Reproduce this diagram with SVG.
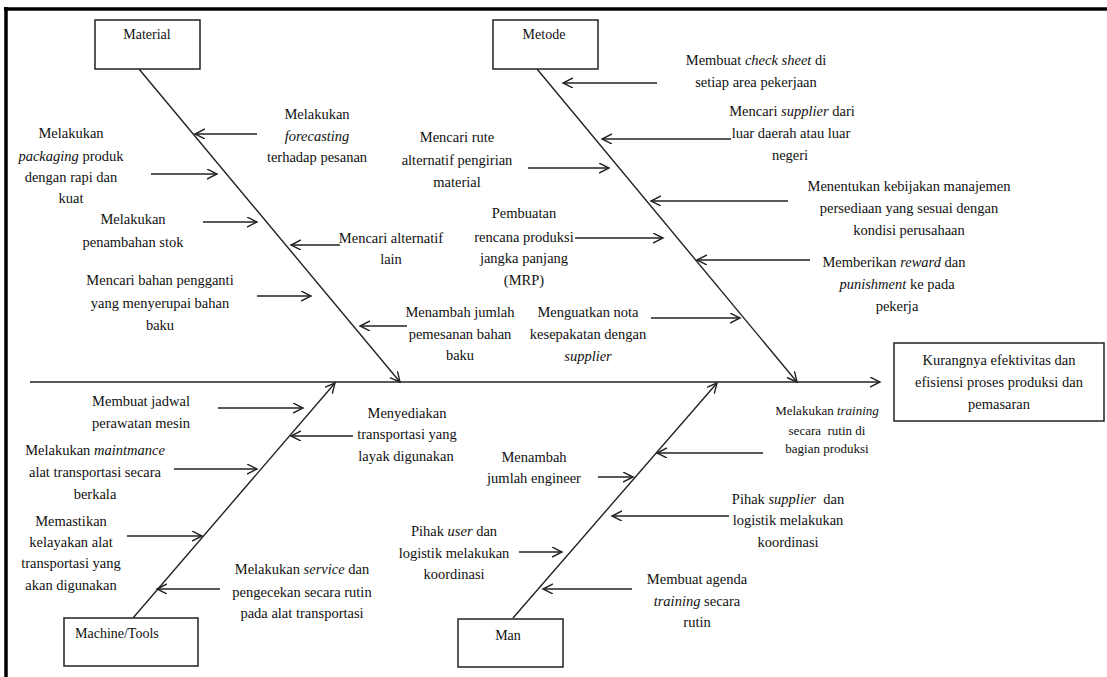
<svg xmlns="http://www.w3.org/2000/svg" width="1107" height="677" viewBox="0 0 1107 677">
  <style>
    .frame { stroke: #000; stroke-width: 3.5; fill: none; }
    .box { fill: #fff; stroke: #222; stroke-width: 1.5; }
    .bone { stroke: #222; stroke-width: 1.4; fill: none; marker-end: url(#arr); }
    .lbl text { font-size: 14.5px; fill: #111; text-anchor: middle; }
    .lbl .sm { font-size: 13px; }
    .lbl .head { font-size: 14px; }
    .lbl .lft { text-anchor: start; }
    .it { font-style: italic; }
  </style>
  <defs>
    <marker id="arr" markerUnits="userSpaceOnUse" markerWidth="14" markerHeight="14" refX="10" refY="5" orient="auto">
      <path d="M0,0 L10,5 L0,10" fill="none" stroke="#222" stroke-width="1.4"/>
    </marker>
  </defs>

  <rect width="1107" height="677" fill="#fff"/>
  <!-- outer frame: top and left rules -->
  <line class="frame" x1="4" y1="9" x2="1107" y2="9"/>
  <line class="frame" x1="6" y1="7" x2="6" y2="677"/>

  <!-- spine, bones and cause arrows -->
  <g id="connectors">
    <line class="bone" x1="30" y1="382" x2="880" y2="382"/>
    <line class="bone" x1="139" y1="69" x2="400" y2="382"/>
    <line class="bone" x1="537" y1="69" x2="797" y2="382"/>
    <line class="bone" x1="133" y1="618" x2="335" y2="383"/>
    <line class="bone" x1="513" y1="618" x2="717" y2="383"/>

    <!-- Material -->
    <line class="bone" x1="257" y1="134" x2="195" y2="134"/>
    <line class="bone" x1="151" y1="174" x2="217" y2="174"/>
    <line class="bone" x1="203" y1="222" x2="257" y2="222"/>
    <line class="bone" x1="340" y1="245" x2="291" y2="245"/>
    <line class="bone" x1="257" y1="296" x2="311" y2="296"/>
    <line class="bone" x1="407" y1="326" x2="360" y2="326"/>

    <!-- Metode -->
    <line class="bone" x1="657" y1="83" x2="563" y2="83"/>
    <line class="bone" x1="731" y1="139" x2="602" y2="139"/>
    <line class="bone" x1="528" y1="168" x2="609" y2="168"/>
    <line class="bone" x1="788" y1="201" x2="651" y2="201"/>
    <line class="bone" x1="575" y1="238" x2="663" y2="238"/>
    <line class="bone" x1="810" y1="260" x2="697" y2="260"/>
    <line class="bone" x1="651" y1="318" x2="740" y2="318"/>

    <!-- Machine/Tools -->
    <line class="bone" x1="218" y1="408" x2="303" y2="408"/>
    <line class="bone" x1="353" y1="436" x2="291" y2="436"/>
    <line class="bone" x1="174" y1="469" x2="257" y2="469"/>
    <line class="bone" x1="127" y1="536" x2="202" y2="536"/>
    <line class="bone" x1="220" y1="589" x2="157" y2="589"/>

    <!-- Man -->
    <line class="bone" x1="763" y1="453" x2="657" y2="453"/>
    <line class="bone" x1="598" y1="477" x2="633" y2="477"/>
    <line class="bone" x1="729" y1="516" x2="612" y2="516"/>
    <line class="bone" x1="519" y1="552" x2="562" y2="552"/>
    <line class="bone" x1="632" y1="589" x2="543" y2="589"/>
  </g>

  <g class="lbl" font-family="'Liberation Serif', 'DejaVu Serif', serif">
  <!-- category boxes -->
  <g id="material">
    <rect class="box" x="95" y="20" width="105" height="49"/>
    <text class="head" x="147" y="39">Material</text>
  </g>
  <g id="metode">
    <rect class="box" x="493" y="20" width="105" height="49"/>
    <text class="head" x="544" y="39">Metode</text>
  </g>
  <g id="machine-tools">
    <rect class="box" x="64" y="618" width="134" height="48"/>
    <text class="head lft" x="75" y="638">Machine/Tools</text>
  </g>
  <g id="man">
    <rect class="box" x="458" y="619" width="105" height="48"/>
    <text class="head" x="508" y="640">Man</text>
  </g>
  <g id="effect">
    <rect class="box" x="894" y="343" width="210" height="78"/>
    <text x="999" y="365">Kurangnya efektivitas dan</text>
    <text x="999" y="387">efisiensi proses produksi dan</text>
    <text x="999" y="409">pemasaran</text>
  </g>

  <!-- Material causes -->
  <g id="mat-forecasting">
    <text x="317" y="119">Melakukan</text>
    <text x="317" y="141" class="it">forecasting</text>
    <text x="317" y="162">terhadap pesanan</text>
  </g>
  <g id="mat-packaging">
    <text x="71" y="138">Melakukan</text>
    <text x="71" y="161"><tspan class="it">packaging</tspan> produk</text>
    <text x="71" y="182">dengan rapi dan</text>
    <text x="71" y="203">kuat</text>
  </g>
  <g id="mat-stok">
    <text x="133" y="224">Melakukan</text>
    <text x="133" y="247">penambahan stok</text>
  </g>
  <g id="mat-alternatif">
    <text x="391" y="243">Mencari alternatif</text>
    <text x="391" y="264">lain</text>
  </g>
  <g id="mat-pengganti">
    <text x="160" y="285">Mencari bahan pengganti</text>
    <text x="160" y="308">yang menyerupai bahan</text>
    <text x="160" y="330">baku</text>
  </g>
  <g id="mat-pemesanan">
    <text x="460" y="317">Menambah jumlah</text>
    <text x="460" y="339">pemesanan bahan</text>
    <text x="460" y="360">baku</text>
  </g>

  <!-- Metode causes -->
  <g id="met-checksheet">
    <text x="756" y="65">Membuat <tspan class="it">check sheet</tspan> di</text>
    <text x="756" y="87">setiap area pekerjaan</text>
  </g>
  <g id="met-supplier">
    <text x="792" y="116">Mencari <tspan class="it">supplier</tspan> dari</text>
    <text x="791" y="138">luar daerah atau luar</text>
    <text x="790" y="160">negeri</text>
  </g>
  <g id="met-rute">
    <text x="457" y="142">Mencari rute</text>
    <text x="457" y="165">alternatif pengirian</text>
    <text x="457" y="187">material</text>
  </g>
  <g id="met-kebijakan">
    <text x="909" y="191">Menentukan kebijakan manajemen</text>
    <text x="909" y="213">persediaan yang sesuai dengan</text>
    <text x="909" y="235">kondisi perusahaan</text>
  </g>
  <g id="met-mrp">
    <text x="524" y="218">Pembuatan</text>
    <text x="524" y="242">rencana produksi</text>
    <text x="524" y="263">jangka panjang</text>
    <text x="524" y="285">(MRP)</text>
  </g>
  <g id="met-reward">
    <text x="894" y="267">Memberikan <tspan class="it">reward</tspan> dan</text>
    <text x="897" y="289"><tspan class="it">punishment</tspan> ke pada</text>
    <text x="897" y="311">pekerja</text>
  </g>
  <g id="met-nota">
    <text x="588" y="317">Menguatkan nota</text>
    <text x="588" y="339">kesepakatan dengan</text>
    <text x="588" y="361" class="it">supplier</text>
  </g>

  <!-- Machine/Tools causes -->
  <g id="mac-jadwal">
    <text x="141" y="406">Membuat jadwal</text>
    <text x="141" y="428">perawatan mesin</text>
  </g>
  <g id="mac-transportasi">
    <text x="407" y="418">Menyediakan</text>
    <text x="407" y="439">transportasi yang</text>
    <text x="406" y="461">layak digunakan</text>
  </g>
  <g id="mac-maintmance">
    <text x="95" y="455">Melakukan <tspan class="it">maintmance</tspan></text>
    <text x="95" y="477">alat transportasi secara</text>
    <text x="95" y="499">berkala</text>
  </g>
  <g id="mac-kelayakan">
    <text x="71" y="526">Memastikan</text>
    <text x="71" y="547">kelayakan alat</text>
    <text x="71" y="568">transportasi yang</text>
    <text x="71" y="590">akan digunakan</text>
  </g>
  <g id="mac-service">
    <text x="302" y="574">Melakukan <tspan class="it">service</tspan> dan</text>
    <text x="302" y="597">pengecekan secara rutin</text>
    <text x="302" y="618">pada alat transportasi</text>
  </g>

  <!-- Man causes -->
  <g id="man-training">
    <text class="sm" x="827" y="415">Melakukan <tspan class="it">training</tspan></text>
    <text class="sm" x="827" y="435">secara&#160; rutin di</text>
    <text class="sm" x="827" y="453">bagian produksi</text>
  </g>
  <g id="man-engineer">
    <text x="534" y="462">Menambah</text>
    <text x="534" y="483">jumlah engineer</text>
  </g>
  <g id="man-supplier">
    <text x="788" y="504">Pihak <tspan class="it">supplier</tspan>&#160; dan</text>
    <text x="788" y="525">logistik melakukan</text>
    <text x="788" y="547">koordinasi</text>
  </g>
  <g id="man-user">
    <text x="454" y="536">Pihak <tspan class="it">user</tspan> dan</text>
    <text x="454" y="558">logistik melakukan</text>
    <text x="454" y="579">koordinasi</text>
  </g>
  <g id="man-agenda">
    <text x="697" y="584">Membuat agenda</text>
    <text x="697" y="606"><tspan class="it">training</tspan> secara</text>
    <text x="697" y="627">rutin</text>
  </g>
  </g>
</svg>
